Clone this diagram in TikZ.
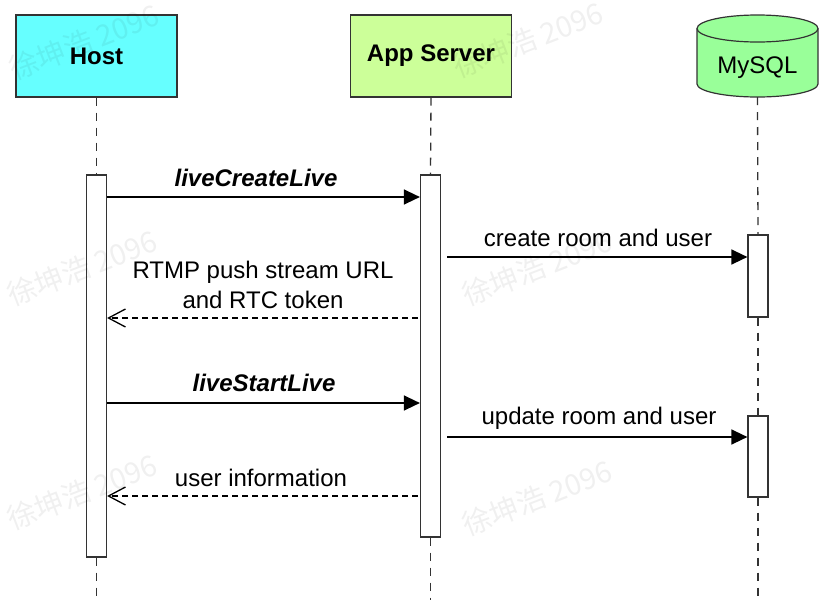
\documentclass[tikz,border=0pt]{standalone}
\usepackage{fontspec}
\setmainfont{Liberation Sans}
\newfontfamily\cjkfont{Noto Sans CJK SC}
\usetikzlibrary{arrows.meta}
\definecolor{hostc}{HTML}{66FFFF}
\definecolor{appc}{HTML}{CCFF99}
\definecolor{dbc}{HTML}{99FF99}
\definecolor{bd}{HTML}{333333}
\begin{document}
\begin{tikzpicture}[x=1pt,y=-1pt,
  actor/.style={draw=bd,line width=1.2pt,minimum width=161pt,minimum height=82pt,inner sep=0pt,font=\fontsize{24}{28}\selectfont\bfseries},
  actbox/.style={draw=bd,fill=white,line width=1.2pt,minimum width=20pt,inner sep=0pt},
  life/.style={draw=bd,line width=1.3pt,dash pattern=on 8pt off 7pt},
  msg/.style={draw=black,line width=1.4pt,-{Triangle[length=16pt,width=15pt]}},
  ret/.style={draw=black,line width=1.3pt,dash pattern=on 6pt off 4pt,-{Straight Barb[length=17pt,width=18pt]}},
  lbl/.style={font=\fontsize{24}{30}\selectfont,inner sep=0pt,align=center},
  wm/.style={font=\cjkfont\fontsize{29}{32}\selectfont,text=black,text opacity=0.06,rotate=21,inner sep=0pt}]
\useasboundingbox (0,0) rectangle (836,616);

% actors
\node[actor,fill=hostc] (host) at (96.5,56) {Host};
\node[actor,fill=appc] (app) at (431,56) {App Server};
\filldraw[fill=dbc,draw=bd,line width=1.2pt]
  (697,28.5) -- (697,84) arc[start angle=180,end angle=0,x radius=60.5,y radius=13]
  -- (818,28.5) arc[start angle=0,end angle=-180,x radius=60.5,y radius=13.5] -- cycle;
\draw[draw=bd,line width=1.2pt] (697,28.5) arc[start angle=180,end angle=0,x radius=60.5,y radius=13.5];
\node[font=\fontsize{24}{28}\selectfont,inner sep=0pt] (db) at (757.5,68) {MySQL};
\coordinate (dbbot) at (757.5,97);

% activations
\node[actbox,minimum height=382pt] (ha) at (96.5,366) {};
\node[actbox,minimum height=362pt] (aa) at (430.5,356) {};
\node[actbox,minimum height=82pt] (ma1) at (758,276) {};
\node[actbox,minimum height=81pt] (ma2) at (758,456.5) {};

% lifeline ends
\coordinate (hend) at (96.5,600);
\coordinate (aend) at (430.5,600);
\coordinate (mend) at (758,600);

\draw[life] (host.south) -- (ha.north);
\draw[life] (ha.south) -- (hend);
\draw[life] (app.south) -- (aa.north);
\draw[life] (aa.south) -- (aend);
\draw[life] (dbbot) -- (ma1.north);
\draw[life] (ma1.south) -- (ma2.north);
\draw[life] (ma2.south) -- (mend);

% message anchors
\coordinate (c1s) at (447,257);
\coordinate (c2s) at (447,437);
\coordinate (r1s) at (418,318);
\coordinate (r2s) at (418,496);

% messages
\draw[msg] (ha.east |- 0,197) -- (aa.west |- 0,197);
\node[lbl,font=\fontsize{24}{30}\selectfont\bfseries\itshape] (l1) at (256,178) {liveCreateLive};

\draw[msg] (c1s) -- (ma1.west |- c1s);
\node[lbl] (l2) at (598,238) {create room and user};

\draw[ret] (r1s) -- (ha.east |- r1s);
\node[lbl] (l3) at (263,285) {RTMP push stream URL\\and RTC token};

\draw[msg] (ha.east |- 0,403) -- (aa.west |- 0,403);
\node[lbl,font=\fontsize{24}{30}\selectfont\bfseries\itshape] (l4) at (264,383) {liveStartLive};

\draw[msg] (c2s) -- (ma2.west |- c2s);
\node[lbl] (l5) at (599,418) {update room and user};

\draw[ret] (r2s) -- (ha.east |- r2s);
\node[lbl] (l6) at (261,478) {user information};

% watermarks
\node[wm] (w1) at (84,42) {徐坤浩 2096};
\node[wm] (w2) at (528,40) {徐坤浩 2096};
\node[wm] (w3) at (82,268) {徐坤浩 2096};
\node[wm] (w4) at (537,268) {徐坤浩 2096};
\node[wm] (w5) at (82,492) {徐坤浩 2096};
\node[wm] (w6) at (537,498) {徐坤浩 2096};
\end{tikzpicture}
\end{document}
